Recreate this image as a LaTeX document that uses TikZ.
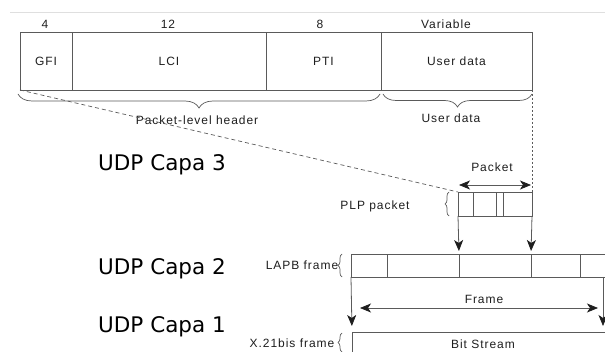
\documentclass[tikz,border=0pt]{standalone}
\usepackage{fontspec}
\setmainfont{Liberation Sans}
\newfontfamily\capafont{DejaVu Sans}
\usetikzlibrary{arrows.meta,decorations.pathreplacing}
\definecolor{linegray}{HTML}{5A5A5A}
\definecolor{textgray}{HTML}{1E1E1E}
\newcommand\lblfont{\fontsize{12}{14}\selectfont\addfontfeature{LetterSpace=8}}
\newcommand\layerfont{\capafont\fontsize{21.5}{24}\selectfont}

\begin{document}
\begin{tikzpicture}[x=1pt,y=-1pt,
  cell/.style={draw=linegray, line width=0.8pt, inner sep=0pt, outer sep=0pt,
               anchor=north west, font=\lblfont, text=textgray},
  field/.style={cell, minimum height=58pt},
  pcell/.style={cell, minimum height=24pt},
  lcell/.style={cell, minimum height=23pt},
  lbl/.style={font=\lblfont, text=textgray, inner sep=0pt},
  layer/.style={font=\layerfont, text=black, inner sep=0pt},
  rule/.style={draw=linegray, line width=0.8pt},
  head/.tip={Stealth[length=11pt,width=9pt,inset=3pt,color=textgray]},
  tip/.style={rule, -head},
  twotip/.style={rule, head-head},
  brace/.style={draw=linegray, line width=0.7pt, decorate},
]
\useasboundingbox (0,0) rectangle (605,352);

% faint rule along the top
\draw[gray!25, line width=0.6pt] (10,12) -- (605,12);

% packet-level header fields
\node[field, minimum width=52pt]  (gfi)  at (20,32)  {GFI};
\node[field, minimum width=194pt] (lci)  at (72,32)  {LCI};
\node[field, minimum width=115pt] (pti)  at (266,32) {PTI};
\node[field, minimum width=151pt] (user) at (381,32) {User data};

% field sizes
\node[lbl] (s4)  at (45,24)  {4};
\node[lbl] (s12) at (168,24) {12};
\node[lbl] (s8)  at (320,24) {8};
\node[lbl] (sv)  at (446,24) {Variable};

% braces under the header
\draw[brace, decoration={brace, mirror, amplitude=14pt, aspect=0.5}] (18,94) -- (380,94);
\draw[brace, decoration={brace, mirror, amplitude=13pt, aspect=0.5}] (383,94) -- (532,94);
\node[lbl] (hdr) at (197,120) {Packet-level header};
\node[lbl] (ud)  at (451,118) {User data};

% layer titles
\node[layer] (c3) at (162,165) {UDP Capa 3};
\node[layer] (c2) at (162,269) {UDP Capa 2};
\node[layer] (c1) at (162,327) {UDP Capa 1};

% PLP packet
\node[pcell, minimum width=15pt] (p1) at (458,192) {};
\node[pcell, minimum width=23pt] (p2) at (473,192) {};
\node[pcell, minimum width=7pt]  (p3) at (496,192) {};
\node[pcell, minimum width=29pt] (p4) at (503,192) {};
\node[lbl] (plp) at (375,206) {PLP packet};
\draw[brace, decoration={brace, amplitude=4pt}] (449,216) -- (449,192);

% packet span
\coordinate (pa) at (459,185);
\coordinate (pb) at (531,185);
\draw[twotip] (pa) -- (pb);
\node[lbl] (pk) at (492,167) {Packet};

% projection of the header onto the packet
\draw[draw=linegray, line width=0.7pt, dash pattern=on 4pt off 3pt] (gfi.south west) -- (p1.north west);
\draw[draw=linegray, line width=0.7pt, dash pattern=on 2pt off 2pt] (user.south east) -- (p4.north east);

% LAPB frame
\node[lcell, minimum width=36pt] (l1) at (351,254) {};
\node[lcell, minimum width=72pt] (l2) at (387,254) {};
\node[lcell, minimum width=72pt] (l3) at (459,254) {};
\node[lcell, minimum width=49pt] (l4) at (531,254) {};
\coordinate (ltop) at (605,254);
\coordinate (lbot) at (605,277);
\draw[rule] (l4.north east) -- (ltop);
\draw[rule] (l4.south east) -- (lbot);
\node[lbl] (lapb) at (302,265) {LAPB frame};
\draw[brace, decoration={brace, amplitude=4pt}] (342,277) -- (342,254);

% packet carried in the frame
\draw[tip, shorten >=3pt] (p1.south west) -- (l3.north west);
\draw[tip, shorten >=3pt] (p4.south east) -- (l4.north west);

% X.21bis frame
\coordinate (xnw) at (352,332);
\coordinate (xne) at (605,332);
\coordinate (xsw) at (352,352);
\draw[rule] (xsw) -- (xnw) -- (xne);
\node[lbl] (bits) at (483,344) {Bit Stream};
\node[lbl] (x21) at (292,343) {X.21bis frame};
\draw[brace, decoration={brace, amplitude=4pt}] (342,352) -- (342,333);

% frame carried in the bit stream
\coordinate (lse) at (603,277);
\coordinate (xre) at (603,332);
\draw[tip, shorten >=6pt] (l1.south west) -- (xnw);
\draw[tip, shorten >=6pt] (lse) -- (xre);

% frame span
\coordinate (fa) at (360,308);
\coordinate (fb) at (598,308);
\draw[twotip] (fa) -- (fb);
\node[lbl] (fr) at (484,299) {Frame};
\end{tikzpicture}
\end{document}
